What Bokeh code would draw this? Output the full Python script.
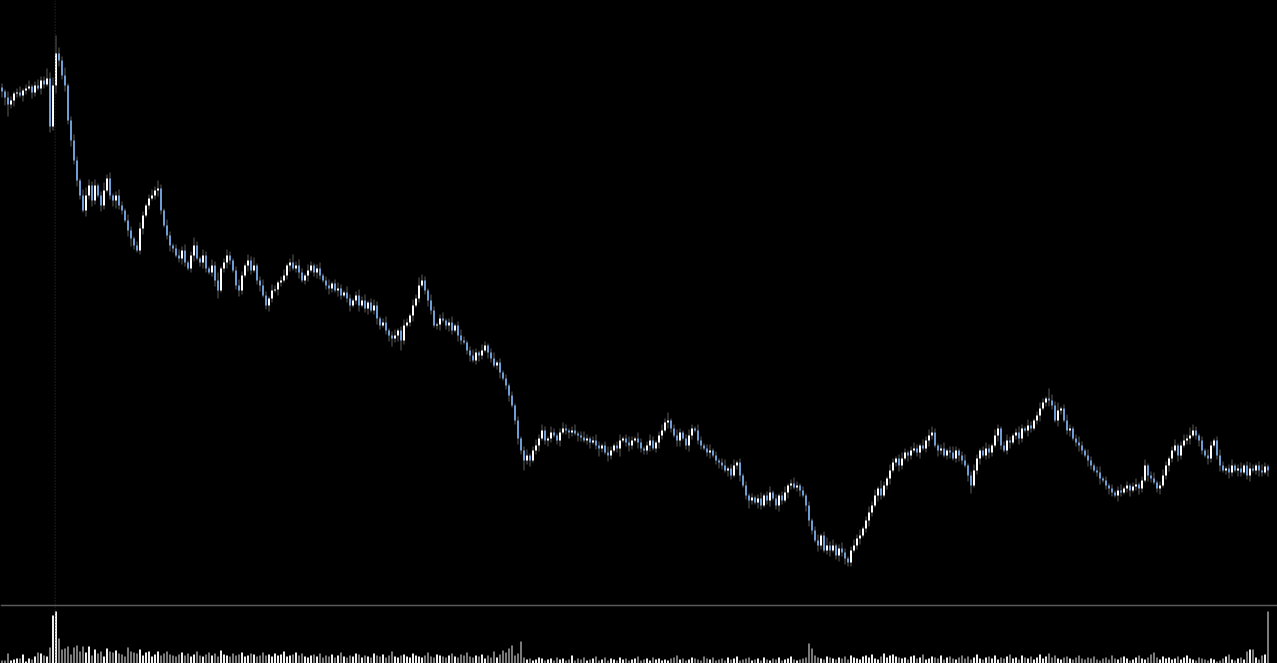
from bokeh.plotting import figure
from bokeh.models import Range1d, Span, ColumnDataSource, GlobalInlineStyleSheet
from bokeh.embed import file_html
from bokeh.resources import INLINE

# ---- data ----
first_open = 55.3
closes = [
    54.9, 54.3, 53.6, 54.0, 54.7, 54.8, 54.5, 55.0, 55.2, 55.4,
    54.8, 55.5, 55.2, 56.0, 55.6, 56.2, 51.4, 55.5, 58.7, 58.0,
    56.5, 55.5, 52.0, 50.0, 48.0, 46.0, 44.5, 43.0, 44.5, 45.5,
    44.0, 45.5, 44.5, 43.5, 45.0, 46.2, 44.5, 44.0, 44.5, 43.5,
    43.0, 42.0, 41.0, 40.2, 39.5, 39.0, 41.2, 42.5, 43.5, 44.2,
    44.5, 45.0, 45.2, 43.0, 41.5, 40.5, 39.5, 39.2, 38.5, 38.2,
    39.0, 37.8, 37.2, 38.5, 39.5, 38.2, 37.8, 38.5, 37.2, 36.8,
    37.5, 36.0, 35.0, 37.2, 37.8, 38.5, 38.0, 37.0, 35.5, 35.0,
    36.5, 37.5, 38.0, 37.0, 37.5, 36.0, 35.5, 34.5, 33.5, 34.2,
    35.0, 35.1, 35.8, 36.0, 36.5, 37.5, 37.8, 37.2, 37.5, 36.8,
    36.0, 36.5, 37.0, 37.5, 36.8, 37.2, 36.5, 36.0, 35.5, 35.2,
    35.7, 35.0, 35.2, 34.5, 34.8, 34.2, 33.5, 34.0, 34.5, 33.5,
    34.0, 33.2, 33.8, 33.0, 33.5, 32.2, 31.5, 31.8, 31.0, 30.5,
    30.2, 30.5, 31.0, 30.0, 31.5, 31.8, 32.5, 33.5, 34.2, 35.5,
    36.0, 35.0, 34.0, 33.0, 31.5, 31.6, 32.2, 32.0, 31.5, 31.8,
    31.0, 31.5, 30.5, 30.0, 29.8, 29.0, 28.5, 28.0, 28.8, 28.5,
    29.0, 29.5, 28.8, 28.2, 27.5, 27.8, 26.8, 26.2, 25.5, 24.5,
    23.5, 22.0, 20.2, 19.0, 18.0, 18.5, 18.0, 19.0, 19.5, 20.2,
    21.0, 20.0, 20.2, 20.8, 20.5, 20.0, 20.8, 21.2, 21.0, 20.8,
    21.0, 20.7, 20.5, 20.3, 20.0, 20.2, 19.8, 20.0, 19.5, 19.2,
    19.5, 18.8, 18.5, 19.0, 19.5, 19.2, 20.0, 20.2, 19.8, 19.5,
    20.0, 20.2, 19.8, 19.2, 19.0, 19.5, 20.0, 19.2, 19.8, 20.5,
    21.0, 21.8, 22.0, 21.2, 20.5, 20.0, 20.8, 20.2, 19.5, 20.5,
    21.2, 21.0, 20.0, 19.5, 19.2, 18.8, 19.0, 18.5, 18.0, 17.8,
    17.5, 17.0, 17.2, 16.5, 17.5, 17.8, 16.5, 15.5, 14.5, 14.0,
    14.3, 13.8, 14.2, 13.5, 14.5, 14.0, 14.8, 14.2, 13.5, 14.5,
    14.0, 14.8, 15.5, 15.7, 15.3, 15.5, 15.0, 14.5, 13.5, 12.0,
    11.0, 10.0, 9.5, 10.5, 9.0, 9.5, 9.0, 9.5, 8.5, 9.2,
    8.8, 8.2, 7.8, 9.0, 9.5, 10.2, 10.5, 11.2, 12.0, 12.8,
    13.5, 14.5, 15.2, 14.5, 15.5, 16.2, 17.0, 17.8, 18.2, 17.5,
    18.2, 18.8, 18.5, 19.0, 19.2, 18.8, 19.5, 19.2, 20.0, 20.5,
    20.8, 19.5, 19.0, 19.2, 18.5, 19.0, 18.8, 18.2, 19.0, 18.5,
    18.0, 17.5, 16.5, 15.5, 17.0, 18.2, 19.0, 18.5, 19.2, 18.8,
    19.5, 20.5, 21.2, 19.5, 19.0, 20.0, 19.8, 20.5, 20.8, 20.2,
    21.2, 21.0, 21.5, 21.2, 22.0, 22.5, 23.2, 23.8, 24.2, 24.0,
    23.5, 22.0, 23.0, 23.2, 22.0, 21.0, 21.2, 20.2, 19.8, 19.5,
    19.0, 18.5, 18.0, 17.5, 17.0, 16.8, 16.2, 16.0, 15.5, 15.2,
    14.8, 14.5, 15.0, 14.8, 15.2, 15.5, 15.0, 15.4, 15.6, 15.2,
    16.0, 17.5, 16.5, 16.2, 15.8, 15.2, 15.5, 16.5, 17.5, 18.2,
    19.0, 19.5, 18.5, 19.5, 20.0, 20.2, 20.5, 21.0, 20.5, 20.0,
    19.0, 18.5, 18.2, 19.5, 20.0, 18.5, 17.5, 17.0, 17.2, 16.8,
    17.5, 17.0, 17.2, 16.8, 17.5, 16.5, 17.2, 17.0, 17.5, 17.0,
    16.8, 17.4, 17.0,
]
# upper / lower shadow lengths, in units of 0.2
wick_hi = [
    2, 1, 3, 2, 1, 2, 3, 1, 2, 3, 1, 2, 3, 2, 2, 5, 3, 4, 9, 3,
    2, 4, 1, 2, 3, 2, 1, 3, 4, 3, 2, 3, 1, 2, 4, 2, 3, 1, 2, 3,
    2, 1, 3, 2, 1, 2, 3, 2, 1, 2, 3, 2, 4, 2, 1, 3, 2, 1, 2, 3,
    2, 3, 1, 2, 4, 2, 1, 3, 2, 1, 3, 2, 4, 1, 2, 3, 2, 1, 2, 3,
    2, 1, 3, 2, 4, 1, 2, 3, 2, 1, 3, 2, 1, 2, 3, 1, 2, 4, 2, 3,
    2, 1, 3, 2, 1, 2, 3, 1, 2, 3, 1, 2, 3, 2, 1, 3, 2, 1, 2, 3,
    2, 3, 1, 2, 3, 2, 1, 2, 3, 1, 2, 3, 1, 2, 3, 2, 1, 3, 2, 4,
    3, 2, 1, 3, 2, 1, 2, 3, 1, 2, 3, 1, 2, 3, 2, 1, 2, 3, 2, 1,
    3, 2, 1, 2, 3, 1, 2, 1, 2, 1, 2, 1, 2, 1, 2, 3, 1, 2, 3, 2,
    3, 2, 1, 3, 2, 1, 2, 3, 2, 1, 2, 3, 1, 2, 3, 2, 1, 2, 3, 2,
    1, 2, 3, 2, 1, 2, 3, 1, 2, 3, 2, 1, 3, 2, 1, 2, 3, 2, 1, 2,
    3, 2, 4, 1, 2, 3, 2, 1, 2, 3, 2, 1, 3, 2, 1, 2, 3, 1, 2, 1,
    2, 3, 1, 2, 3, 1, 2, 1, 2, 1, 2, 1, 2, 3, 1, 2, 3, 1, 2, 1,
    2, 3, 1, 2, 3, 2, 1, 2, 1, 2, 1, 2, 3, 1, 2, 4, 2, 3, 1, 2,
    3, 2, 1, 2, 3, 2, 3, 1, 2, 3, 2, 3, 1, 4, 2, 1, 3, 2, 1, 2,
    3, 2, 1, 2, 3, 2, 1, 3, 2, 3, 3, 2, 1, 2, 3, 1, 2, 3, 2, 1,
    2, 3, 1, 2, 3, 2, 1, 2, 3, 2, 1, 3, 2, 1, 2, 3, 2, 1, 2, 3,
    2, 1, 3, 2, 1, 2, 3, 2, 1, 5, 3, 2, 4, 1, 2, 3, 2, 1, 2, 3,
    2, 1, 3, 2, 1, 2, 3, 1, 2, 1, 2, 1, 2, 3, 1, 2, 1, 2, 3, 1,
    2, 3, 1, 2, 3, 1, 2, 3, 2, 1, 2, 3, 1, 2, 3, 2, 4, 3, 2, 1,
    2, 1, 3, 2, 1, 2, 3, 2, 1, 2, 3, 1, 2, 3, 1, 2, 3, 2, 1, 2,
    3, 2, 1,
]
wick_lo = [
    3, 4, 6, 2, 3, 2, 1, 3, 2, 1, 3, 2, 1, 3, 2, 1, 3, 2, 4, 3,
    2, 3, 2, 3, 2, 3, 2, 1, 3, 2, 3, 2, 1, 3, 2, 1, 2, 3, 4, 2,
    2, 1, 3, 4, 2, 1, 2, 3, 1, 2, 1, 2, 3, 2, 1, 2, 3, 2, 1, 2,
    3, 2, 1, 2, 3, 1, 2, 3, 2, 1, 2, 3, 4, 1, 2, 3, 2, 1, 2, 3,
    2, 1, 3, 2, 1, 2, 3, 1, 2, 3, 2, 1, 3, 2, 1, 2, 3, 1, 2, 3,
    1, 2, 3, 1, 2, 3, 2, 1, 2, 3, 2, 1, 3, 2, 1, 2, 3, 1, 2, 3,
    1, 2, 3, 1, 2, 3, 2, 1, 2, 3, 4, 2, 3, 5, 2, 1, 2, 3, 1, 2,
    1, 2, 3, 2, 1, 2, 3, 1, 2, 3, 2, 1, 3, 2, 1, 2, 3, 1, 2, 3,
    2, 1, 3, 2, 1, 2, 3, 1, 2, 3, 1, 2, 3, 2, 5, 2, 3, 1, 2, 3,
    1, 2, 3, 2, 1, 2, 3, 1, 2, 3, 2, 1, 3, 2, 1, 2, 3, 1, 2, 4,
    2, 1, 3, 2, 1, 2, 4, 1, 2, 3, 2, 1, 3, 2, 2, 2, 3, 1, 2, 3,
    2, 1, 3, 2, 1, 3, 3, 1, 2, 3, 2, 1, 2, 2, 1, 2, 3, 1, 2, 3,
    2, 1, 3, 2, 1, 2, 3, 1, 2, 4, 2, 1, 3, 2, 1, 2, 3, 1, 2, 3,
    2, 1, 3, 2, 1, 2, 3, 1, 3, 3, 2, 1, 3, 2, 1, 2, 3, 1, 2, 3,
    2, 3, 2, 2, 1, 2, 3, 1, 2, 3, 2, 1, 3, 2, 1, 2, 3, 1, 2, 3,
    2, 1, 3, 2, 1, 2, 3, 1, 2, 3, 2, 1, 3, 2, 1, 2, 3, 1, 2, 3,
    2, 1, 3, 4, 1, 2, 3, 1, 2, 3, 2, 1, 3, 2, 1, 2, 3, 1, 2, 3,
    2, 1, 3, 2, 1, 2, 3, 1, 2, 3, 2, 1, 3, 2, 1, 2, 3, 1, 2, 3,
    2, 1, 3, 2, 1, 2, 3, 1, 2, 3, 2, 1, 3, 2, 1, 2, 3, 1, 2, 3,
    2, 1, 3, 2, 1, 2, 3, 1, 2, 3, 2, 1, 3, 2, 1, 2, 3, 1, 2, 3,
    2, 1, 3, 2, 1, 2, 3, 1, 2, 3, 2, 1, 3, 2, 1, 2, 3, 1, 2, 3,
    2, 1, 3,
]
volumes = [
    3, 3, 10, 3, 4, 5, 5, 9, 2, 5, 4, 7, 11, 10, 8, 7, 16,
    48, 52,
    25, 14, 15, 17, 9, 16, 18, 12, 17, 11, 17, 8, 14, 10, 12, 7, 15,
    12, 11, 13, 10, 9, 7, 16, 12, 11, 10, 14, 8, 11, 12, 7, 9, 12, 8, 10, 12, 9, 8, 7, 9, 11,
    8, 10, 7, 9, 12, 8, 7, 9, 11, 8, 10, 7, 13, 9, 8, 7, 10, 8, 9, 11,
    7, 8, 10, 9, 7, 8, 11, 8, 9, 7, 10, 8, 9, 12, 7, 8, 9, 11, 8, 10,
    7, 6, 8, 9, 7, 10, 6, 8, 7, 9, 6, 8, 11, 7, 6, 8, 7, 10, 9, 6,
    8, 7, 6, 10, 8, 7, 9, 6, 8, 12, 7, 6, 8, 9, 7, 6, 10, 8, 7, 6,
    8, 11, 7, 6, 9, 8, 7, 6, 8, 10, 7, 6, 9, 8, 11, 7, 6, 8, 7, 9,
    5, 8, 6, 12, 6, 9, 13, 11, 15, 18, 8, 10, 22, 6, 4, 5, 3, 4, 6, 5,
    3, 4, 5, 3, 6, 4, 5, 3, 4, 8, 3, 5, 4, 6, 3, 4, 5, 7, 3, 4,
    6, 3, 5, 4, 3, 6, 4, 5, 3, 4, 5, 7, 3, 4, 5, 3, 6, 4, 5, 3,
    4, 3, 5, 6, 8, 4, 5, 3, 4, 6, 5, 4, 3, 7, 5, 4, 6, 3, 4, 5,
    3, 6, 4, 5, 7, 3, 4, 5, 6, 3, 4, 5, 3, 6, 4, 3, 5, 4, 6, 3,
    4, 5, 7, 4, 3,
    4, 5, 6, 20, 15, 8, 6, 5, 4, 7, 6, 5, 4, 6, 5, 7, 4, 8, 6, 5,
    4, 7, 8, 6, 9, 5, 4, 7, 10, 6, 8, 9, 7, 6, 5,
    6, 4, 7, 8, 5, 6, 9, 4, 5, 7, 6, 5, 8, 4, 6, 7, 5, 4, 6, 8,
    5, 7, 4, 6, 9, 5, 4, 6, 7, 5, 8, 4, 6, 5, 7, 9, 5, 6, 4, 8,
    6, 5, 7, 4, 6, 9, 5, 7, 10, 6, 8, 5, 4, 6, 7, 5, 4, 6, 8, 5,
    4, 6, 5, 7, 4, 3, 5, 6, 4, 8, 5, 4, 6, 7, 5, 3, 4, 6, 8, 5,
    4, 6, 9, 11, 6, 4, 7, 5, 6, 4, 5, 7, 4, 6, 8, 5, 4, 3, 6, 5,
    4, 3, 5, 4, 2, 3, 5, 7, 9, 4, 3, 5, 6, 4,
    12, 14, 14, 6, 4, 8, 9, 52,
]

n = min(len(closes), len(wick_hi), len(wick_lo), len(volumes))
closes = closes[:n]
opens = ([first_open] + closes[:-1])[:n]
highs = [max(o, c) + w * 0.2 for o, c, w in zip(opens, closes, wick_hi)]
lows = [min(o, c) - w * 0.2 for o, c, w in zip(opens, closes, wick_lo)]
idx = list(range(n))

UP_BODY = "#ffffff"
DOWN_BODY = "#6f9fd6"
WICK = "#5c5c5c"
UP_VOL = "#f2f2f2"
DOWN_VOL = "#7c7c7c"

up = [c >= o for o, c in zip(opens, closes)]
src = ColumnDataSource(dict(
    x=idx, open=opens, close=closes, high=highs, low=lows,
    top=[max(o, c) for o, c in zip(opens, closes)],
    bottom=[min(o, c) for o, c in zip(opens, closes)],
    body=[UP_BODY if u else DOWN_BODY for u in up],
    vol=volumes[:n],
    volc=[UP_VOL if u else DOWN_VOL for u in up],
))

W, H = 1277, 663
p = figure(width=W, height=H, output_backend="svg", toolbar_location=None,
           x_range=Range1d(-0.5, -0.5 + W / 3.0),
           y_range=Range1d(64 - H / 10.0, 64),
           min_border=0, min_border_left=0, min_border_right=0,
           min_border_top=0, min_border_bottom=0)
p.background_fill_color = "#000000"
p.border_fill_color = "#000000"
p.outline_line_color = None
p.xaxis.visible = False
p.yaxis.visible = False
p.grid.visible = False
p.extra_y_ranges = {"vol": Range1d(0, H)}

p.stylesheets = [GlobalInlineStyleSheet(css="html,body{margin:0 !important;padding:0;background:#000;overflow:hidden;}")]

# volume bars
p.vbar(x="x", top="vol", bottom=0, width=0.66, fill_color="volc", line_color=None,
       y_range_name="vol", source=src)

# separator between price and volume panes
p.add_layout(Span(location=3.5, dimension="width", line_color="#5a5a5a", line_width=1.5))
# cursor line
p.add_layout(Span(location=17.7, dimension="height", line_color="#3a3a3a",
                  line_width=1, line_dash="1 2"))

# candles
p.segment(x0="x", y0="low", x1="x", y1="high", line_color=WICK, line_width=1, source=src)
p.vbar(x="x", top="top", bottom="bottom", width=0.66, fill_color="body",
       line_color=None, source=src)

open("out.html", "w").write(file_html(p, INLINE))
